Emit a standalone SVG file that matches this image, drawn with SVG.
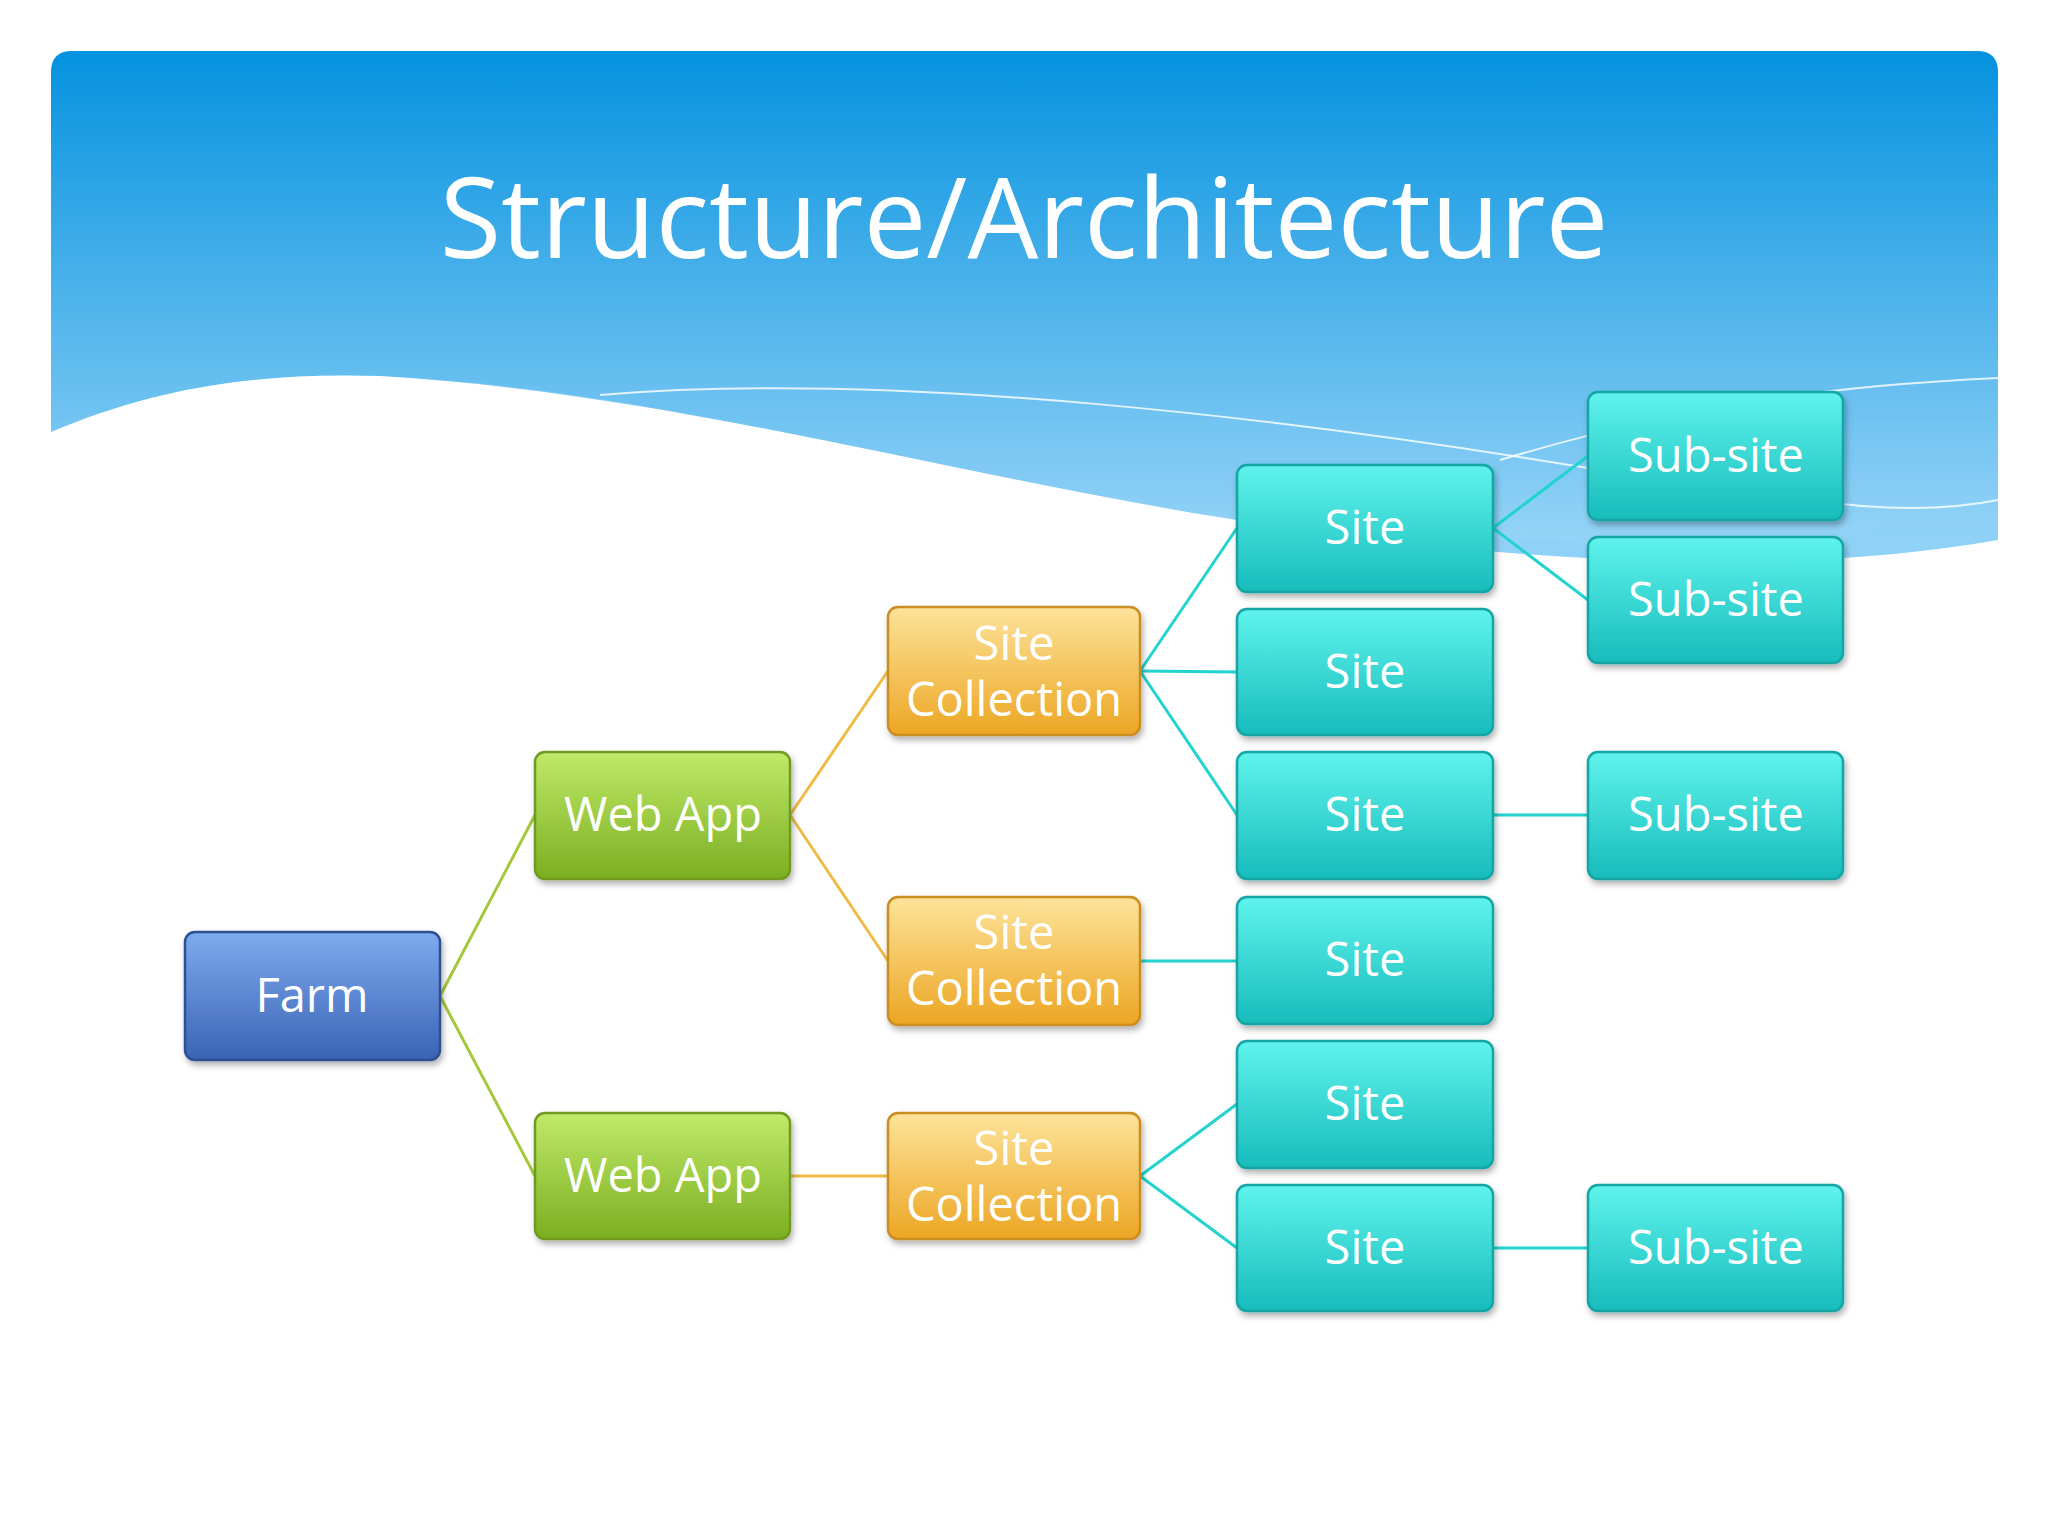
<svg xmlns="http://www.w3.org/2000/svg" width="2048" height="1536" viewBox="0 0 2048 1536">
<defs>
<linearGradient id="bg" x1="0" y1="0" x2="0" y2="1"><stop offset="0" stop-color="#0592df"/><stop offset="1" stop-color="#9ad6f8"/></linearGradient>
<linearGradient id="gb" x1="0" y1="0" x2="0" y2="1"><stop offset="0" stop-color="#7eabef"/><stop offset="1" stop-color="#3a63b4"/></linearGradient>
<linearGradient id="gg" x1="0" y1="0" x2="0" y2="1"><stop offset="0" stop-color="#c0ea68"/><stop offset="1" stop-color="#7bae22"/></linearGradient>
<linearGradient id="go" x1="0" y1="0" x2="0" y2="1"><stop offset="0" stop-color="#fde39a"/><stop offset="1" stop-color="#eca623"/></linearGradient>
<linearGradient id="gc" x1="0" y1="0" x2="0" y2="1"><stop offset="0" stop-color="#5ff3ec"/><stop offset="1" stop-color="#17bcbc"/></linearGradient>
<filter id="sh" x="-10%" y="-10%" width="130%" height="130%"><feDropShadow dx="2" dy="4" stdDeviation="3" flood-opacity="0.3"/></filter>
</defs>
<style>
text{font-family:Candara,"Open Sans","Noto Sans",sans-serif;fill:#fff;text-anchor:middle}
.n text{font-size:47px}
.b{stroke-width:2.5;filter:url(#sh)}
.blue{fill:url(#gb);stroke:#2d4f93}
.green{fill:url(#gg);stroke:#6f9a20}
.or{fill:url(#go);stroke:#c98d20}
.cy{fill:url(#gc);stroke:#14a5a5}
#conn line{stroke-width:3}
</style>
<rect width="2048" height="1536" fill="#fff"/>
<path d="M51,72 Q51,51 72,51 L1977,51 Q1998,51 1998,72 L1998,560 L51,560 Z" fill="url(#bg)"/>
<path d="M51,432 C150,390 250,372 380,376 C700,390 1000,500 1306,522 C1550,545 1750,560 1998,508 L1998,1536 L51,1536 Z" fill="#8dd0f6" opacity="0.7"/>
<path d="M600,395 C900,370 1300,420 1600,470 C1800,500 1900,520 1998,500" fill="none" stroke="#fff" stroke-width="2" opacity="0.8"/>
<path d="M1500,460 C1700,400 1850,385 1998,378" fill="none" stroke="#fff" stroke-width="2" opacity="0.8"/>
<path d="M51,432 C150,390 250,372 380,376 C700,395 1000,490 1306,530 C1550,565 1800,575 1998,540 L1998,1536 L51,1536 Z" fill="#fff"/>
<text x="1024" y="258" font-size="112">Structure/Architecture</text>
<g id="conn">
<line x1="440" y1="996" x2="535" y2="815" stroke="#a4c83a"/>
<line x1="440" y1="996" x2="535" y2="1176" stroke="#a4c83a"/>
<line x1="790" y1="815" x2="888" y2="671" stroke="#f0bb45"/>
<line x1="790" y1="815" x2="888" y2="961" stroke="#f0bb45"/>
<line x1="790" y1="1176" x2="888" y2="1176" stroke="#f0bb45"/>
<line x1="1140" y1="671" x2="1237" y2="528" stroke="#22d3d0"/>
<line x1="1140" y1="671" x2="1237" y2="672" stroke="#22d3d0"/>
<line x1="1140" y1="671" x2="1237" y2="815" stroke="#22d3d0"/>
<line x1="1140" y1="961" x2="1237" y2="961" stroke="#22d3d0"/>
<line x1="1140" y1="1176" x2="1237" y2="1104" stroke="#22d3d0"/>
<line x1="1140" y1="1176" x2="1237" y2="1248" stroke="#22d3d0"/>
<line x1="1493" y1="528" x2="1588" y2="456" stroke="#22d3d0"/>
<line x1="1493" y1="528" x2="1588" y2="600" stroke="#22d3d0"/>
<line x1="1493" y1="815" x2="1588" y2="815" stroke="#22d3d0"/>
<line x1="1493" y1="1248" x2="1588" y2="1248" stroke="#22d3d0"/>
</g>
<g class="n">
<g id="farm"><rect class="b blue" x="185" y="932" width="255" height="128" rx="10"/><text x="312" y="1012">Farm</text></g>
<g id="webapp1"><rect class="b green" x="535" y="752" width="255" height="127" rx="10"/><text x="663" y="831">Web App</text></g>
<g id="webapp2"><rect class="b green" x="535" y="1113" width="255" height="126" rx="10"/><text x="663" y="1192">Web App</text></g>
<g id="sc1"><rect class="b or" x="888" y="607" width="252" height="128" rx="10"/><text x="1014" y="660">Site</text><text x="1014" y="716">Collection</text></g>
<g id="sc2"><rect class="b or" x="888" y="897" width="252" height="128" rx="10"/><text x="1014" y="949">Site</text><text x="1014" y="1005">Collection</text></g>
<g id="sc3"><rect class="b or" x="888" y="1113" width="252" height="126" rx="10"/><text x="1014" y="1165">Site</text><text x="1014" y="1221">Collection</text></g>
<g id="site1"><rect class="b cy" x="1237" y="465" width="256" height="127" rx="10"/><text x="1365" y="544">Site</text></g>
<g id="site2"><rect class="b cy" x="1237" y="609" width="256" height="126" rx="10"/><text x="1365" y="688">Site</text></g>
<g id="site3"><rect class="b cy" x="1237" y="752" width="256" height="127" rx="10"/><text x="1365" y="831">Site</text></g>
<g id="site4"><rect class="b cy" x="1237" y="897" width="256" height="127" rx="10"/><text x="1365" y="976">Site</text></g>
<g id="site5"><rect class="b cy" x="1237" y="1041" width="256" height="127" rx="10"/><text x="1365" y="1120">Site</text></g>
<g id="site6"><rect class="b cy" x="1237" y="1185" width="256" height="126" rx="10"/><text x="1365" y="1264">Site</text></g>
<g id="sub1"><rect class="b cy" x="1588" y="392" width="255" height="128" rx="10"/><text x="1716" y="472">Sub-site</text></g>
<g id="sub2"><rect class="b cy" x="1588" y="537" width="255" height="126" rx="10"/><text x="1716" y="616">Sub-site</text></g>
<g id="sub3"><rect class="b cy" x="1588" y="752" width="255" height="127" rx="10"/><text x="1716" y="831">Sub-site</text></g>
<g id="sub4"><rect class="b cy" x="1588" y="1185" width="255" height="126" rx="10"/><text x="1716" y="1264">Sub-site</text></g>
</g>
</svg>
